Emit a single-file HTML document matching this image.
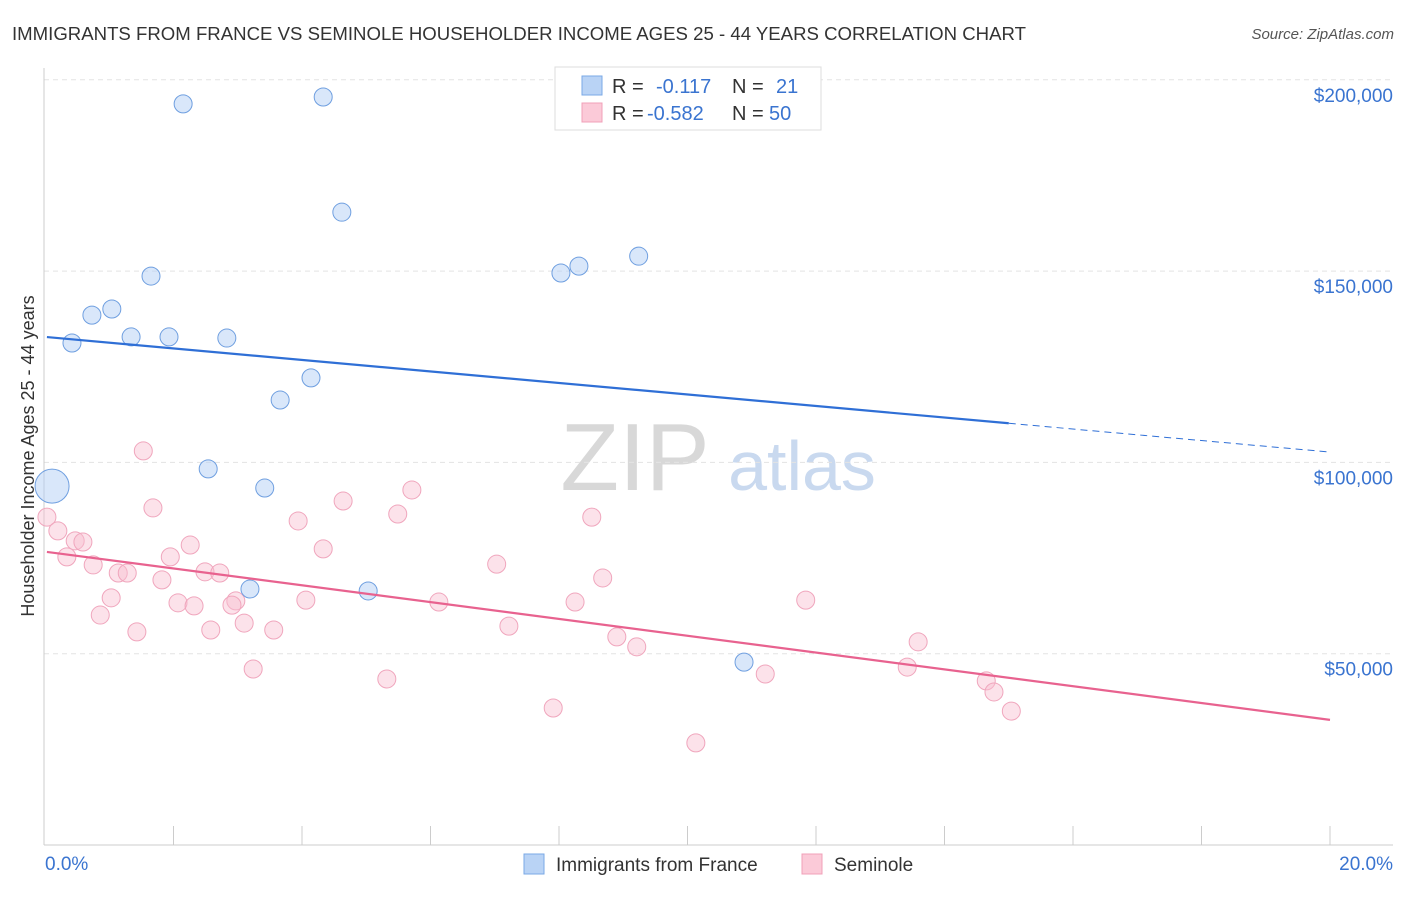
<!DOCTYPE html>
<html><head><meta charset="utf-8"><style>
body{margin:0;background:#fff;font-family:"Liberation Sans",sans-serif;}
svg text{font-family:"Liberation Sans",sans-serif;}
</style></head><body>
<svg id="chart" width="1406" height="892">
<text x="12" y="40" font-size="18" fill="#333" textLength="1014" lengthAdjust="spacingAndGlyphs">IMMIGRANTS FROM FRANCE VS SEMINOLE HOUSEHOLDER INCOME AGES 25 - 44 YEARS CORRELATION CHART</text>
<text x="1394" y="39" font-size="15" fill="#555" text-anchor="end" font-style="italic">Source: ZipAtlas.com</text>
<g><text x="635" y="490" font-size="96" fill="#d8d8d8" text-anchor="middle" font-family="Liberation Serif">ZIP</text><text x="802" y="490" font-size="70" fill="#c9d9ef" text-anchor="middle">atlas</text></g>
<g id="grid"></g><g id="axes"></g><g id="marks"></g>
<text transform="translate(34,456) rotate(-90)" font-size="18" fill="#333" text-anchor="middle">Householder Income Ages 25 - 44 years</text>
<g>
<rect x="555" y="67" width="266" height="63" fill="#fff" stroke="#ddd"/>
<rect x="582" y="76" width="20" height="19" fill="#b9d3f5" stroke="#7aa8e6"/>
<rect x="582" y="103" width="20" height="19" fill="#fbcad8" stroke="#f0a0b8"/>
<text x="612" y="93" font-size="20" fill="#333">R =</text><text x="656" y="93" font-size="20" fill="#3a74d0">-0.117</text>
<text x="732" y="93" font-size="20" fill="#333">N =</text><text x="776" y="93" font-size="20" fill="#3a74d0">21</text>
<text x="612" y="120" font-size="20" fill="#333">R =</text><text x="647" y="120" font-size="20" fill="#3a74d0">-0.582</text>
<text x="732" y="120" font-size="20" fill="#333">N =</text><text x="769" y="120" font-size="20" fill="#3a74d0">50</text>
</g>
<g>
<rect x="524" y="854" width="20" height="20" fill="#b9d3f5" stroke="#7aa8e6"/>
<text x="556" y="871" font-size="19" fill="#333">Immigrants from France</text>
<rect x="802" y="854" width="20" height="20" fill="#fbcad8" stroke="#f0a0b8"/>
<text x="834" y="871" font-size="19" fill="#333">Seminole</text>
</g>
</svg>
<script>
const blueX=[2.15,4.33,4.62,1.65,0.73,1.04,0.42,1.34,1.93,2.83,4.14,3.66,2.54,3.42,3.19,5.03,8.03,8.31,9.24,10.88,0.11];
const blueY=[193.7,195.5,165.4,148.7,138.5,140.1,131.2,132.8,132.8,132.5,122.1,116.3,98.3,93.3,66.9,66.4,149.5,151.3,153.9,47.8,93.8];
const blueR=[9,9,9,9,9,9,9,9,9,9,9,9,9,9,9,9,9,9,9,9,17];
const pinkX=[0.03,0.20,0.47,0.59,0.34,0.75,1.53,1.68,1.14,1.28,1.03,0.86,1.43,1.82,1.95,2.26,2.07,2.32,2.49,2.72,2.97,2.91,2.58,3.10,3.24,3.56,3.94,4.06,4.33,4.64,5.49,5.71,5.32,6.13,7.03,7.22,7.91,8.25,8.51,8.68,8.90,9.21,10.13,11.21,11.84,13.42,13.59,14.65,14.77,15.04];
const pinkY=[85.7,82.1,79.5,79.2,75.3,73.2,103.0,88.1,71.1,71.1,64.6,60.1,55.7,69.3,75.3,78.4,63.3,62.5,71.4,71.1,63.8,62.7,56.2,58.0,46.0,56.2,84.7,64.0,77.4,89.9,86.5,92.8,43.4,63.5,73.4,57.2,35.8,63.5,85.7,69.8,54.4,51.8,26.7,44.7,64.0,46.5,53.1,42.9,40.0,35.0];
const blueTrend=[132.8,102.7]; const pinkTrend=[76.6,32.7];
const yTicks=[50,100,150,200]; const yTickLabels=["$50,000","$100,000","$150,000","$200,000"];
const xTickLabels=["0.0%","20.0%"];
const NS="http://www.w3.org/2000/svg";
const sx=p=>45+p/20*1285, sy=v=>845-v/50*191.3;
function mk(t,a,p){const e=document.createElementNS(NS,t);for(const k in a)e.setAttribute(k,a[k]);document.getElementById(p).appendChild(e);return e;}
yTicks.forEach((v,i)=>{
 const g=mk('line',{x1:44,x2:1393,y1:sy(v),y2:sy(v),stroke:'#e3e3e3','stroke-dasharray':'5,4'},'grid');
 
 
 const t=mk('text',{x:1393,y:sy(v)+22,'font-size':19,fill:'#3a74d0','text-anchor':'end'},'axes');
 t.textContent=yTickLabels[i];
 
 
});
const ya=mk('line',{x1:44,x2:44,y1:68,y2:845,stroke:'#ccc'},'axes');


const xa=mk('line',{x1:44,x2:1393,y1:845,y2:845,stroke:'#ccc'},'axes');


for(let i=1;i<=10;i++){const tk=mk('line',{x1:sx(i*2),x2:sx(i*2),y1:826,y2:845,stroke:'#ccc'},'axes');
 
 }
[[0,'start',45],[20,'end',1393]].forEach((d,i)=>{const t=mk('text',{x:d[2],y:870,'font-size':19,fill:'#3a74d0','text-anchor':d[1]},'axes');t.textContent=xTickLabels[i];
 
 });
pinkX.forEach((x,i)=>{const c=mk('circle',{cx:sx(x),cy:sy(pinkY[i]),r:9,fill:'rgba(248,190,208,0.45)',stroke:'#f0a6bd','stroke-width':1},'marks');
 
 });
blueX.forEach((x,i)=>{const c=mk('circle',{cx:sx(x),cy:sy(blueY[i]),r:blueR[i],fill:'rgba(180,208,245,0.5)',stroke:'#6f9fe0','stroke-width':1},'marks');
 
 });
const bAt=p=>blueTrend[0]+(blueTrend[1]-blueTrend[0])*p/20;
const l1=mk('line',{x1:sx(0.03),y1:sy(bAt(0.03)),x2:sx(15),y2:sy(bAt(15)),stroke:'#2f6fd6','stroke-width':2.2},'marks');


const l2=mk('line',{x1:sx(15),y1:sy(bAt(15)),x2:sx(20),y2:sy(bAt(20)),stroke:'#2f6fd6','stroke-width':1,'stroke-dasharray':'7,5'},'marks');


const l3=mk('line',{x1:sx(0.03),y1:sy(pinkTrend[0]),x2:sx(20),y2:sy(pinkTrend[1]),stroke:'#e8628f','stroke-width':2.2},'marks');


</script>
</body></html>
